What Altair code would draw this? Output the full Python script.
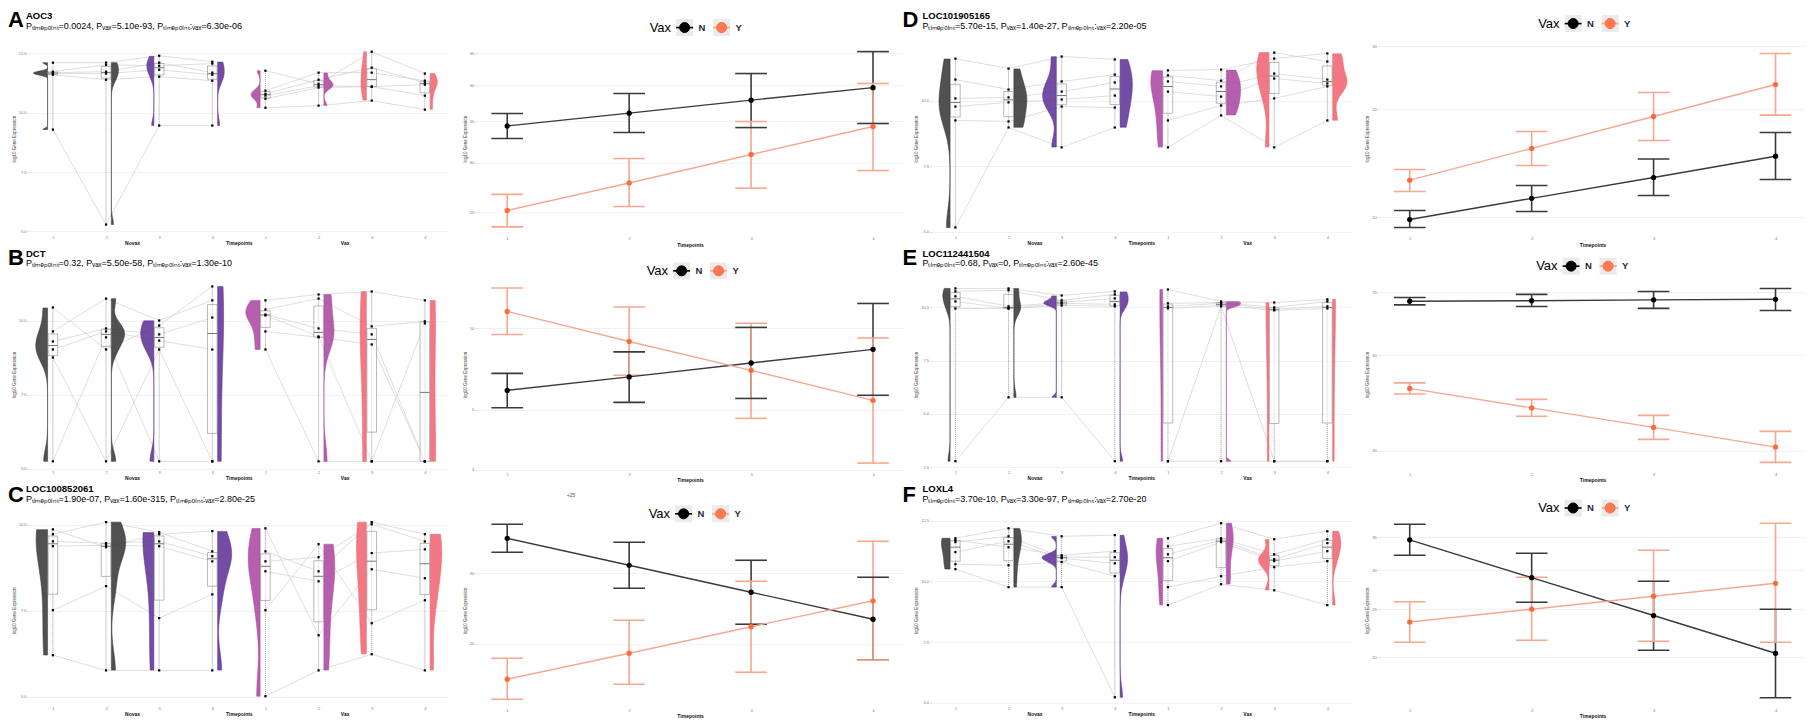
import altair as alt
import pandas as pd

FONT = "Liberation Sans"
W_RAIN = 420
W_LINE = 427
H = 191

# ---------------- text content ----------------
GENES = {"A": "AOC3", "B": "DCT", "C": "LOC100852061",
         "D": "LOC101905165", "E": "LOC112441504", "F": "LOXL4"}
P_TIMEPOINT = {"A": "0.0024", "B": "0.32", "C": "1.90e-07", "D": "5.70e-15", "E": "0.68", "F": "3.70e-10"}
P_VAX = {"A": "5.10e-93", "B": "5.50e-58", "C": "1.60e-315", "D": "1.40e-27", "E": "0", "F": "3.30e-97"}
P_INTER = {"A": "6.30e-06", "B": "1.30e-10", "C": "2.80e-25", "D": "2.20e-05", "E": "2.60e-45", "F": "2.70e-20"}
ARMS = ["Novax", "Vax"]
TIMEPOINTS = [1, 2, 3, 4]
VAX_LEVELS = ["N", "Y"]

# ---------------- raincloud values: 4 timepoints x 6 animals ----------------
A_NOVAX = [[12.11, 11.73, 11.69, 11.65, 11.60, 9.29],
           [12.11, 12.02, 11.73, 11.65, 11.39, 5.29],
           [12.40, 11.98, 12.11, 11.81, 11.52, 9.46],
           [12.15, 12.07, 11.69, 11.60, 11.35, 9.46]]
A_VAX = [[11.77, 10.93, 10.80, 10.72, 10.59, 10.21],
         [11.22, 11.69, 11.39, 11.14, 11.06, 10.30],
         [12.57, 11.69, 11.90, 11.10, 11.10, 10.51],
         [11.65, 11.35, 11.27, 11.18, 10.72, 10.13]]
B_NOVAX = [[10.45, 9.64, 9.30, 9.03, 8.76, 5.25],
           [9.03, 10.75, 9.74, 9.64, 5.25, 9.44],
           [9.84, 10.01, 9.54, 9.33, 9.03, 5.25],
           [11.16, 10.69, 10.11, 9.03, 5.25, 5.25]]
B_VAX = [[10.69, 10.38, 10.21, 10.18, 9.64, 9.03],
         [10.89, 10.75, 9.74, 9.47, 9.44, 5.25],
         [10.99, 9.81, 9.54, 5.25, 9.20, 5.25],
         [10.69, 9.98, 5.25, 9.91, 5.25, 5.25]]
C_NOVAX = [[9.86, 9.72, 9.51, 9.37, 7.51, 6.20],
           [9.34, 10.07, 9.46, 9.40, 8.21, 5.76],
           [9.72, 9.78, 9.51, 9.37, 7.28, 5.76],
           [9.81, 9.22, 9.08, 8.93, 7.97, 5.76]]
C_VAX = [[9.89, 9.22, 8.93, 8.64, 7.51, 5.01],
         [6.78, 8.64, 9.05, 8.35, 9.43, 5.76],
         [8.70, 10.07, 10.01, 9.17, 7.13, 6.23],
         [8.44, 9.72, 9.51, 9.28, 7.80, 5.76]]
D_NOVAX = [[11.61, 10.81, 10.09, 9.78, 9.25, 5.16],
           [11.23, 10.43, 10.13, 9.94, 9.21, 8.98],
           [11.69, 10.74, 10.35, 10.05, 9.78, 8.22],
           [11.58, 11.00, 10.70, 10.20, 9.74, 8.98]]
D_VAX = [[11.16, 10.97, 10.74, 10.35, 9.25, 8.22],
         [11.19, 10.77, 10.55, 10.16, 9.82, 9.44],
         [11.61, 11.84, 11.04, 10.85, 10.09, 8.22],
         [11.81, 11.50, 10.81, 10.66, 10.55, 9.25]]
E_NOVAX = [[10.89, 10.75, 10.52, 10.28, 9.95, 2.78],
           [10.89, 10.80, 10.05, 9.95, 9.95, 5.78],
           [10.56, 10.33, 10.23, 10.19, 10.09, 5.78],
           [10.75, 10.61, 10.42, 10.14, 10.05, 2.78]]
E_VAX = [[10.84, 10.19, 10.05, 9.95, 2.78, 2.78],
         [10.28, 10.23, 10.19, 10.09, 10.05, 2.78],
         [10.23, 10.00, 9.91, 9.86, 2.78, 2.78],
         [10.38, 10.28, 10.05, 9.95, 2.78, 2.78]]
F_NOVAX = [[11.77, 11.69, 11.61, 11.20, 10.70, 10.50],
           [12.18, 11.40, 11.85, 11.65, 10.66, 9.76],
           [11.85, 11.07, 10.99, 10.95, 10.79, 9.76],
           [11.90, 11.24, 10.99, 10.74, 10.21, 5.23]]
F_VAX = [[11.77, 11.44, 11.11, 10.83, 9.76, 9.02],
         [12.39, 11.77, 11.69, 11.61, 10.21, 9.88],
         [11.73, 11.11, 10.91, 10.83, 10.58, 9.63],
         [12.06, 11.73, 11.57, 11.24, 10.83, 9.02]]

# ---------------- mean +/- error values for the line charts ----------------
A_N_MEAN = [34.40, 36.08, 37.86, 39.66]
A_N_LO = [32.84, 33.58, 34.20, 34.72]
A_N_HI = [36.03, 38.80, 41.79, 45.33]
A_Y_MEAN = [25.15, 27.85, 30.95, 34.33]
A_Y_LO = [23.66, 25.52, 27.32, 29.16]
A_Y_HI = [26.69, 30.49, 34.98, 40.27]

B_N_MEAN = [5.89, 6.61, 7.44, 8.36]
B_N_LO = [5.08, 5.32, 5.50, 5.65]
B_N_HI = [6.81, 8.18, 10.08, 12.36]
B_Y_MEAN = [11.55, 8.94, 6.99, 5.41]
B_Y_LO = [9.49, 6.70, 4.64, 3.17]
B_Y_HI = [14.10, 11.99, 10.44, 9.21]

C_N_MEAN = [36.68, 31.41, 26.90, 23.03]
C_N_LO = [33.85, 27.52, 22.38, 18.20]
C_N_HI = [39.76, 35.85, 32.33, 29.32]
C_Y_MEAN = [16.31, 18.94, 22.06, 25.61]
C_Y_LO = [14.54, 15.85, 16.98, 18.20]
C_Y_HI = [18.41, 22.90, 28.65, 36.06]

D_N_MEAN = [9.86, 11.30, 12.92, 14.82]
D_N_LO = [9.37, 10.38, 11.51, 12.76]
D_N_HI = [10.45, 12.27, 14.55, 17.26]
D_Y_MEAN = [12.70, 15.58, 19.13, 23.50]
D_Y_LO = [11.81, 13.96, 16.39, 19.30]
D_Y_HI = [13.60, 17.37, 22.32, 28.68]

E_N_MEAN = [66.79, 66.96, 67.28, 67.47]
E_N_LO = [65.48, 64.95, 64.27, 63.58]
E_N_HI = [68.15, 69.26, 70.37, 71.51]
E_Y_MEAN = [41.92, 37.77, 34.03, 30.63]
E_Y_LO = [40.68, 36.13, 31.92, 28.23]
E_Y_HI = [43.17, 39.52, 36.29, 33.31]

F_N_MEAN = [34.59, 28.98, 24.28, 20.35]
F_N_LO = [32.18, 25.83, 20.64, 16.53]
F_N_HI = [37.19, 32.48, 28.50, 25.00]
F_Y_MEAN = [23.55, 25.01, 26.57, 28.23]
F_Y_LO = [21.43, 21.63, 21.53, 21.43]
F_Y_HI = [25.89, 29.03, 32.94, 37.37]

# ---------------- axis settings ----------------
RAIN_DOMAIN = {"A": [4.89, 12.93], "B": [4.96, 11.41], "C": [4.73, 10.28],
               "D": [4.91, 12.20], "E": [2.37, 11.33], "F": [4.88, 12.73]}
RAIN_TICKS = {"A": [5.0, 7.5, 10.0, 12.5], "B": [5.0, 7.5, 10.0], "C": [5.0, 7.5, 10.0],
              "D": [5.0, 7.5, 10.0], "E": [2.5, 5.0, 7.5, 10.0], "F": [5.0, 7.5, 10.0, 12.5]}
LINE_DOMAIN = {"A": [23.04, 46.77], "B": [2.99, 15.22], "C": [14.00, 41.96],
               "D": [8.98, 30.66], "E": [27.11, 75.19], "F": [15.92, 38.86]}
LINE_TICKS = {"A": [25, 30, 35, 40, 45], "B": [3, 5, 10], "C": [20, 30],
              "D": [10, 20, 30], "E": [30, 50, 70], "F": [20, 25, 30, 35]}

# ---------------- assemble tables ----------------
RAIN_SRC = {"A": (A_NOVAX, A_VAX), "B": (B_NOVAX, B_VAX), "C": (C_NOVAX, C_VAX),
            "D": (D_NOVAX, D_VAX), "E": (E_NOVAX, E_VAX), "F": (F_NOVAX, F_VAX)}
rows = []
for p, (nov, vax) in RAIN_SRC.items():
    for ai, arm_vals in enumerate((nov, vax)):
        for ti, vals in enumerate(arm_vals):
            g = ai * 4 + ti + 1
            for si, v in enumerate(vals):
                rows.append({"panel": p, "arm": ARMS[ai], "grp": g, "gk": str(g),
                             "sid": f"{ARMS[ai]}{si}", "val": v})
rain_df = pd.DataFrame(rows)

LINE_SRC = {
    "A": (A_N_MEAN, A_N_LO, A_N_HI, A_Y_MEAN, A_Y_LO, A_Y_HI),
    "B": (B_N_MEAN, B_N_LO, B_N_HI, B_Y_MEAN, B_Y_LO, B_Y_HI),
    "C": (C_N_MEAN, C_N_LO, C_N_HI, C_Y_MEAN, C_Y_LO, C_Y_HI),
    "D": (D_N_MEAN, D_N_LO, D_N_HI, D_Y_MEAN, D_Y_LO, D_Y_HI),
    "E": (E_N_MEAN, E_N_LO, E_N_HI, E_Y_MEAN, E_Y_LO, E_Y_HI),
    "F": (F_N_MEAN, F_N_LO, F_N_HI, F_Y_MEAN, F_Y_LO, F_Y_HI),
}
lrows = []
for p, (nm, nl, nh, ym, yl, yh) in LINE_SRC.items():
    for i, t in enumerate(TIMEPOINTS):
        lrows.append({"panel": p, "vax": "N", "t": t, "mean": nm[i], "lo": nl[i], "hi": nh[i]})
        lrows.append({"panel": p, "vax": "Y", "t": t, "mean": ym[i], "lo": yl[i], "hi": yh[i]})
line_df = pd.DataFrame(lrows)

# ---------------- styles ----------------
C_NE, C_NL, C_VE, C_VL = "#333333", "#5b2d93", "#a9449f", "#f0606e"
VCOL = alt.Scale(domain=[str(i) for i in range(1, 9)],
                 range=[C_NE, C_NE, C_NL, C_NL, C_VE, C_VE, C_VL, C_VL])
LINE_COL = {"N": "#3a3a3a", "Y": "#f5a88f"}
PT_FILL = {"N": "#000000", "Y": "#ff7a52"}
PT_STROKE = {"N": "#000000", "Y": "#ff6a3d"}
SUB_T = "\u209c\u1d62\u2098\u2091\u209a\u2092\u1d62\u2099\u209c"
SUB_V = "\u1d65\u2090\u2093"
LETTER_DX = [-21, -29]
GENE_DX = [-3, -9]
LETTER_DY = [-16.5, -14, -13]
GENE_DY = [-24.5, -22.5, -22.5]
PLINE_DY = [-14.5, -13, -13]
LEG_X = {"A": 173, "B": 170, "C": 172, "D": 159, "E": 157, "F": 159}
LEG_Y = {"A": -15.6, "B": -8.2, "C": -1.1, "D": -19.6, "E": -12.9, "F": -6.9}
VW = 0.27


def text_layer(txt, x, y, size, weight="normal", color="black", align="left", baseline="alphabetic"):
    return alt.Chart(pd.DataFrame({"t": [txt]})).mark_text(
        font=FONT, fontSize=size, fontWeight=weight, align=align,
        baseline=baseline, color=color
    ).encode(x=alt.value(x), y=alt.value(y), text="t:N")


def legend_layers(p):
    lx, cy = LEG_X[p], LEG_Y[p]
    one = pd.DataFrame({"k": [0]})
    out = [text_layer("Vax", lx, cy, 13, baseline="middle")]
    for i, lev in enumerate(VAX_LEVELS):
        cx = lx + 35 + 37 * i
        out.append(alt.Chart(one).mark_square(size=290, color="#ebebeb", opacity=1).encode(
            x=alt.value(cx), y=alt.value(cy)))
        out.append(alt.Chart(one).mark_rule(color=LINE_COL[lev] if lev == "Y" else "#000000",
                                            strokeWidth=1.6).encode(
            x=alt.value(cx - 8.5), x2=alt.value(cx + 8.5), y=alt.value(cy)))
        out.append(alt.Chart(one).mark_circle(size=100, color=PT_FILL[lev], opacity=1,
                                              stroke=PT_STROKE[lev], strokeWidth=1).encode(
            x=alt.value(cx), y=alt.value(cy)))
        out.append(text_layer(lev, cx + 14, cy, 9.5, weight="bold", color="#1f1f3f", baseline="middle"))
    return out


def rain_chart(p, col, row):
    d = rain_df[rain_df["panel"] == p]
    xs = alt.Scale(domain=[0.55, 8.45], nice=False, zero=False)
    ys = alt.Scale(domain=RAIN_DOMAIN[p], nice=False, zero=False)
    xa = alt.Axis(values=list(range(1, 9)),
                  labelExpr="datum.value > 4 ? datum.value - 4 : datum.value",
                  title="Timepoints", grid=False, ticks=False, labelPadding=1,
                  titlePadding=1, labelFontSize=4, titleFontSize=5,
                  titleFontWeight="bold", labelColor="#777777", titleColor="#111111")
    ya = alt.Axis(values=RAIN_TICKS[p], format=".1f", title="log10 Gene Expression",
                  labelFontSize=4, titleFontSize=4.5, titleFontWeight="normal",
                  labelColor="#777777", titleColor="#444444", tickSize=2,
                  labelPadding=1, titlePadding=2)

    def X(f):
        return alt.X(f, scale=xs, axis=xa)

    def Y(f):
        return alt.Y(f, scale=ys, axis=ya)

    base = alt.Chart(d)
    links = base.mark_line(color="#d0d0d0", strokeWidth=0.7).encode(
        x=X("grp:Q"), y=Y("val:Q"), detail="sid:N")
    violin = (
        base.transform_joinaggregate(vmin="min(val)", vmax="max(val)", groupby=["grp"])
        .transform_density("val", groupby=["grp", "gk", "vmin", "vmax"], as_=["val", "dens"], steps=300)
        .transform_filter("datum.val >= datum.vmin && datum.val <= datum.vmax")
        .transform_joinaggregate(gmax="max(dens)", groupby=["grp"])
        .transform_joinaggregate(pmax="max(dens)")
        .transform_calculate(side="datum.grp % 2 == 1 ? -1 : 1")
        .transform_calculate(
            x0="datum.grp + datum.side * 0.1",
            x1=f"datum.grp + datum.side * (0.1 + {VW} * datum.dens / sqrt(datum.gmax * datum.pmax))")
        .mark_area(orient="horizontal", fillOpacity=0.85, strokeWidth=0.6, strokeOpacity=0.9)
        .encode(x=X("x1:Q"), x2="x0:Q", y=Y("val:Q"),
                color=alt.Color("gk:N", scale=VCOL, legend=None),
                stroke=alt.Stroke("gk:N", scale=VCOL, legend=None),
                detail="gk:N")
    )
    stats = base.transform_aggregate(
        q1="q1(val)", q3="q3(val)", med="median(val)", lo="min(val)", hi="max(val)",
        groupby=["grp"]).transform_calculate(b0="datum.grp - 0.09", b1="datum.grp + 0.09")
    whisk = stats.mark_rule(color="#555555", strokeWidth=0.6, strokeDash=[1, 1]).encode(
        x=X("grp:Q"), y=Y("lo:Q"), y2="hi:Q")
    box = stats.mark_rect(fill="white", fillOpacity=0.55, stroke="#8a8a8a", strokeWidth=0.6).encode(
        x=X("b0:Q"), x2="b1:Q", y=Y("q1:Q"), y2="q3:Q")
    med = stats.mark_rule(color="#555555", strokeWidth=0.8).encode(
        x=X("b0:Q"), x2="b1:Q", y=Y("med:Q"))
    pts = base.mark_square(size=5, color="black", opacity=1).encode(x=X("grp:Q"), y=Y("val:Q"))
    arms = base.transform_aggregate(xp="mean(grp)", groupby=["arm"]).mark_text(
        font=FONT, fontSize=5, fontWeight="bold", baseline="middle", color="#111111"
    ).encode(x=X("xp:Q"), y=alt.value(H + 8.5), text="arm:N")

    pline = (f"P{SUB_T}={P_TIMEPOINT[p]}, P{SUB_V}={P_VAX[p]}, "
             f"P{SUB_T}:{SUB_V}={P_INTER[p]}")
    letter = text_layer(p, LETTER_DX[col], LETTER_DY[row], 22, "bold")
    gene = text_layer(GENES[p], GENE_DX[col], GENE_DY[row], 9.5, "bold")
    ptxt = text_layer(pline, GENE_DX[col], PLINE_DY[row], 9)
    return alt.layer(links, violin, whisk, box, med, pts, arms, letter, gene, ptxt).properties(
        width=W_RAIN, height=H)


def line_chart(p, col, row):
    d = line_df[line_df["panel"] == p]
    xs = alt.Scale(domain=[0.75, 4.25], nice=False, zero=False)
    ys = alt.Scale(type="log", domain=LINE_DOMAIN[p], nice=False, zero=False)
    xa = alt.Axis(values=TIMEPOINTS, format="d", title="Timepoints", grid=False, ticks=False,
                  labelPadding=2.5, titlePadding=1.5, labelFontSize=4, titleFontSize=5,
                  titleFontWeight="bold", labelColor="#777777", titleColor="#111111")
    ya = alt.Axis(values=LINE_TICKS[p], format="d", title="log10 Gene Expression",
                  labelFontSize=4, titleFontSize=4.5, titleFontWeight="normal",
                  labelColor="#777777", titleColor="#444444", tickSize=2,
                  labelPadding=1, titlePadding=2)

    def X(f):
        return alt.X(f, scale=xs, axis=xa)

    def Y(f):
        return alt.Y(f, scale=ys, axis=ya)

    lc = alt.Scale(domain=VAX_LEVELS, range=[LINE_COL["N"], LINE_COL["Y"]])
    pf = alt.Scale(domain=VAX_LEVELS, range=[PT_FILL["N"], "#ff6a3d"])
    C = alt.Color("vax:N", scale=lc, legend=None)
    base = alt.Chart(d).transform_calculate(c0="datum.t - 0.13", c1="datum.t + 0.13")
    err = base.mark_rule(strokeWidth=1.6).encode(x=X("t:Q"), y=Y("lo:Q"), y2="hi:Q", color=C)
    cap_lo = base.mark_rule(strokeWidth=1.6).encode(x=X("c0:Q"), x2="c1:Q", y=Y("lo:Q"), color=C)
    cap_hi = base.mark_rule(strokeWidth=1.6).encode(x=X("c0:Q"), x2="c1:Q", y=Y("hi:Q"), color=C)
    line = base.mark_line(strokeWidth=1.4).encode(x=X("t:Q"), y=Y("mean:Q"), color=C)
    pts = base.mark_point(filled=True, size=28, opacity=1).encode(
        x=X("t:Q"), y=Y("mean:Q"), fill=alt.Fill("vax:N", scale=pf, legend=None))
    layers = [err, cap_lo, cap_hi, line, pts] + legend_layers(p)
    if p == "C":
        layers.append(text_layer("+25", 90, -18, 5, color="#555555"))
    return alt.layer(*layers).properties(width=W_LINE, height=H)


charts = []
for r, pair in enumerate([("A", "D"), ("B", "E"), ("C", "F")]):
    for c, p in enumerate(pair):
        charts.append(rain_chart(p, c, r))
        charts.append(line_chart(p, c, r))

chart = (
    alt.concat(*charts, columns=4, spacing={"row": 45, "column": 28}, bounds="flush")
    .resolve_scale(color="independent", fill="independent", stroke="independent")
    .properties(padding=0, background="white")
    .configure_view(stroke=None)
    .configure_axis(labelFont=FONT, titleFont=FONT, domain=False, gridColor="#ebebeb",
                    gridWidth=0.7, tickColor="#bbbbbb", tickWidth=0.5)
    .configure_text(font=FONT)
)

chart.save("out.html", embed_options={"renderer": "svg", "actions": False})
